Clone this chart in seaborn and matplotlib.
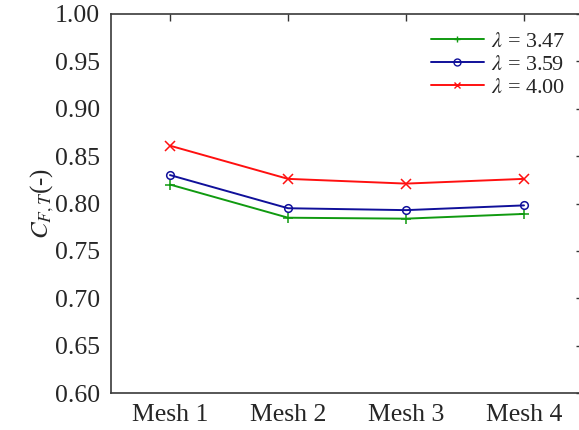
import numpy as np
import pandas as pd
import matplotlib
matplotlib.use("Agg")
import matplotlib.pyplot as plt
import seaborn as sns
from matplotlib.lines import Line2D

# Mesh-convergence study: thrust coefficient per mesh for three tip-speed ratios
meshes = ["Mesh 1", "Mesh 2", "Mesh 3", "Mesh 4"]
series_labels = [r"$\lambda$ = 3.47", r"$\lambda$ = 3.59", r"$\lambda$ = 4.00"]
cft_347 = [0.820, 0.785, 0.784, 0.789]
cft_359 = [0.830, 0.795, 0.793, 0.798]
cft_400 = [0.861, 0.826, 0.821, 0.826]
y_ticks = [0.60, 0.65, 0.70, 0.75, 0.80, 0.85, 0.90, 0.95, 1.00]

series_colors = ["#109a10", "#10109a", "#ff1010"]
series_markers = ["+", "o", "x"]
series_msize = [7, 5.5, 7]

sns.set_style("white")
plt.rcParams["font.family"] = ["Liberation Serif", "DejaVu Serif"]
plt.rcParams["mathtext.fontset"] = "stix"

fig = plt.figure(figsize=(5.79, 4.30), dpi=100)
ax = fig.add_axes([111 / 579, 1 - 393 / 430, 472 / 579, (393 - 14) / 430])

for lab, vals, col, mk, ms in zip(series_labels, [cft_347, cft_359, cft_400],
                                  series_colors, series_markers, series_msize):
    df = pd.DataFrame({"pos": np.arange(len(meshes)), "cft": vals})
    sns.lineplot(data=df, x="pos", y="cft", ax=ax, color=col, marker=mk,
                 linewidth=1.4, markersize=ms, markeredgewidth=1.1,
                 markerfacecolor="none", markeredgecolor=col, label=lab)

ax.set_xlim(-0.5, 3.5)
ax.set_ylim(0.60, 1.00)
ax.set_xticks(range(len(meshes)))
ax.set_xticklabels(meshes)
ax.set_yticks(y_ticks)
ax.set_yticklabels([f"{t:.2f}" for t in y_ticks])
ax.set_xlabel("")
ax.set_ylabel(r"$C_{F,T}$(-)", fontsize=18, labelpad=-1)

ax.tick_params(direction="in", top=True, right=True, length=5, width=1,
               labelsize=18.5, color="#333333", pad=8)
for sp in ax.spines.values():
    sp.set_color("#3a3a3a")
    sp.set_linewidth(1.2)

handles = [Line2D([], [], color=c, marker=m, markersize=5, markeredgecolor=c,
                  markerfacecolor="none", linewidth=1.4)
           for c, m in zip(series_colors, series_markers)]
ax.legend(handles, series_labels, loc="upper right", frameon=False,
          fontsize=16, handlelength=2.4, handletextpad=0.3, labelspacing=0.12,
          bbox_to_anchor=(0.99, 0.99), borderaxespad=0.2)

fig.savefig("out.png", dpi=100)
